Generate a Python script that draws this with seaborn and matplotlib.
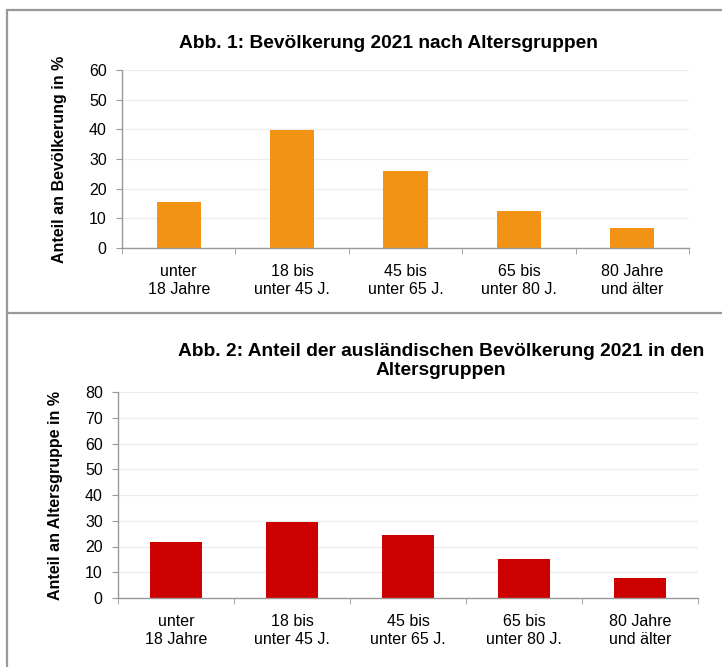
import pandas as pd
import seaborn as sns
import matplotlib.pyplot as plt
from matplotlib.lines import Line2D

# age groups (x labels)
age_groups = ['unter\n18 Jahre', '18 bis\nunter 45 J.', '45 bis\nunter 65 J.',
              '65 bis\nunter 80 J.', '80 Jahre\nund älter']

# Abb. 1: share of total population in %
share_population = [15.5, 39.8, 26.0, 12.6, 6.8]

# Abb. 2: share of foreign population per age group in %
share_foreign = [21.6, 29.7, 24.3, 15.1, 7.9]

sns.set_style('white')
plt.rcParams['font.family'] = ['Liberation Sans Narrow', 'Liberation Sans', 'DejaVu Sans']
plt.rcParams['text.color'] = 'black'
plt.rcParams['axes.labelcolor'] = 'black'
plt.rcParams['xtick.color'] = 'black'
plt.rcParams['ytick.color'] = 'black'

W, H = 722, 667
fig = plt.figure(figsize=(W / 100, H / 100), dpi=100)


def box(x0, y0, x1, y1):
    # pixel coords (top-left origin) -> figure fraction
    return [x0 / W, 1 - y1 / H, (x1 - x0) / W, (y1 - y0) / H]


def draw_panel(ax, values, color, ymax, ylabel, width):
    df = pd.DataFrame({'group': age_groups, 'value': values})
    sns.barplot(data=df, x='group', y='value', color=color, width=width,
                saturation=1, ax=ax, edgecolor='none')
    ax.set_ylim(0, ymax)
    ax.set_xlim(-0.5, len(age_groups) - 0.5)
    ax.set_yticks(range(0, ymax + 1, 10))
    ax.yaxis.grid(True, color='#ececec', linewidth=0.9)
    ax.set_axisbelow(True)
    for s in ['top', 'right']:
        ax.spines[s].set_visible(False)
    for s in ['left', 'bottom']:
        ax.spines[s].set_color('#999999')
        ax.spines[s].set_linewidth(1.0)
    ax.tick_params(axis='y', left=True, length=4, color='#999999',
                   labelsize=11.5, pad=7)
    ax.tick_params(axis='x', bottom=False, labelsize=11.5, pad=8)
    ax.set_xticks(range(len(age_groups)), age_groups, linespacing=1.25)
    ax.set_xticks([i - 0.5 for i in range(len(age_groups) + 1)], minor=True)
    ax.tick_params(axis='x', which='minor', bottom=True, length=4,
                   color='#999999', direction='out')
    ax.set_xlabel('')
    ax.set_ylabel(ylabel, fontsize=11.5, fontweight='bold', labelpad=16)


ax1 = fig.add_axes(box(122, 70, 689, 248))
draw_panel(ax1, share_population, '#F39316', 60,
           'Anteil an Bevölkerung in %', 0.39)
fig.text(388 / W, 1 - 44 / H, 'Abb. 1: Bevölkerung 2021 nach Altersgruppen',
         ha='center', va='center', fontsize=13.8, fontweight='bold')

ax2 = fig.add_axes(box(118, 392, 698, 598))
draw_panel(ax2, share_foreign, '#CC0000', 80,
           'Anteil an Altersgruppe in %', 0.45)
fig.text(441 / W, 1 - 361 / H,
         'Abb. 2: Anteil der ausländischen Bevölkerung 2021 in den\nAltersgruppen',
         ha='center', va='center', fontsize=13.8, fontweight='bold',
         linespacing=1.1)

# panel frame lines
frame = dict(color='#999999', linewidth=1.6, transform=fig.transFigure)
fig.add_artist(Line2D([7 / W, 1], [1 - 10 / H, 1 - 10 / H], **frame))
fig.add_artist(Line2D([7 / W, 7 / W], [0, 1 - 10 / H], **frame))
fig.add_artist(Line2D([7 / W, 1], [1 - 313 / H, 1 - 313 / H], **frame))

fig.savefig('out.png', dpi=100)
